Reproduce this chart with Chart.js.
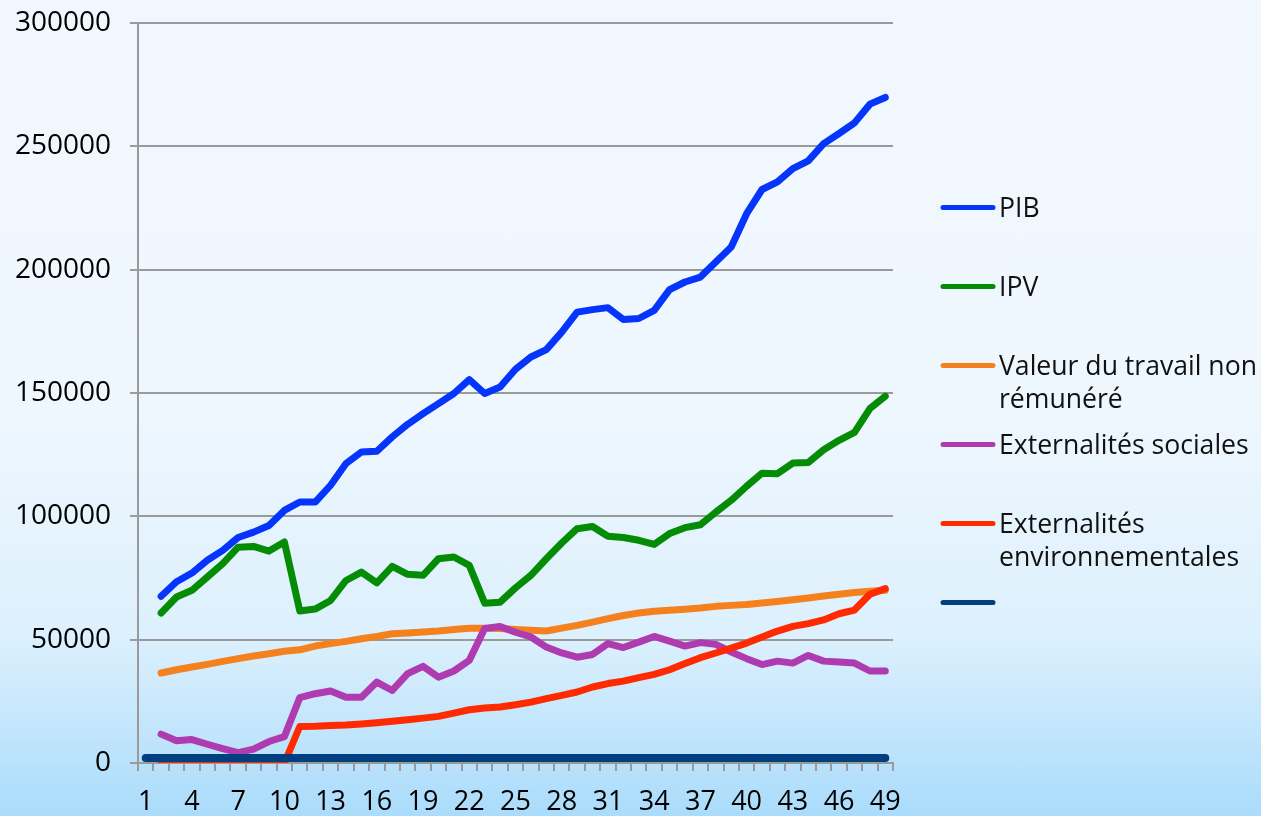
<!DOCTYPE html>
<html>
<head>
<meta charset="utf-8">
<script src="https://cdn.jsdelivr.net/npm/chart.js@4/dist/chart.umd.min.js"></script>
<style>
  html, body { margin: 0; padding: 0; }
  body {
    width: 1261px; height: 816px; overflow: hidden;
    background: linear-gradient(to bottom, #f1f7fe 0%, #eff7fe 50%, #dcf0fd 78%, #aadcfb 100%);
  }
  #wrap { position: relative; width: 1261px; height: 816px; }
</style>
</head>
<body>
<div id="wrap"><canvas id="chart" width="1261" height="816"></canvas></div>
<script>
// x categories 1..49
const years = Array.from({ length: 49 }, (_, i) => String(i + 1));

// series (first point missing for most series)
const pib = [null, 67600, 73500, 77000, 82200, 86200, 91400, 93600, 96300, 102400,
  105800, 105800, 112600, 121400, 126100, 126400, 132200, 137300, 141600, 145700,
  149800, 155400, 149800, 152400, 159600, 164600, 167600, 174700, 182800, 183800,
  184600, 179800, 180200, 183500, 191900, 195000, 197000, 203100, 209200, 222700,
  232500, 235600, 241000, 244100, 251100, 255200, 259500, 267100, 269800];

const ipv = [null, 60800, 67300, 70000, 75400, 80800, 87500, 87800, 85900, 89600,
  61600, 62400, 65900, 74000, 77400, 73000, 79700, 76500, 76100, 82800,
  83500, 80100, 64800, 65200, 71000, 76100, 82800, 89200, 95000, 95900,
  91900, 91400, 90300, 88600, 93000, 95400, 96600, 101700, 106500, 112200,
  117500, 117300, 121600, 121800, 127000, 130800, 134000, 143700, 148700];

const travailNonRemunere = [null, 36500, 37800, 38900, 40000, 41200, 42300, 43400, 44300, 45300,
  45900, 47400, 48400, 49300, 50400, 51300, 52400, 52700, 53100, 53500,
  54100, 54600, 54600, 54500, 54100, 53800, 53500, 54700, 55800, 57100,
  58500, 59800, 60800, 61500, 61900, 62300, 62800, 63500, 63900, 64300,
  64900, 65500, 66200, 66900, 67700, 68400, 69100, 69600, 70000];

const externSociales = [null, 11700, 9000, 9500, 7600, 5800, 4200, 5600, 8700, 10700,
  26500, 28100, 29200, 26700, 26700, 32800, 29400, 36200, 39200, 34800,
  37300, 41600, 54500, 55300, 53000, 51100, 47000, 44600, 42900, 44000,
  48400, 46800, 49000, 51300, 49400, 47400, 48800, 48100, 45000, 42300,
  39900, 41300, 40500, 43600, 41300, 40900, 40500, 37300, 37300];

const externEnv = [null, 0, 0, 0, 0, 0, 0, 0, 0, 0,
  14800, 14900, 15200, 15400, 15800, 16300, 16900, 17500, 18200, 18900,
  20200, 21600, 22300, 22700, 23600, 24700, 26100, 27400, 28800, 30800,
  32200, 33200, 34600, 35900, 37800, 40300, 42700, 44600, 46600, 48600,
  51100, 53500, 55400, 56500, 58000, 60500, 62000, 68400, 70700];

const sixieme = Array(49).fill(2000);

const seriesNames = ['PIB', 'IPV', 'Valeur du travail non\nrémunéré', 'Externalités sociales',
  'Externalités\nenvironnementales', ''];
const seriesColors = ['#0535fb', '#058c05', '#f5801e', '#ae3cb0', '#ff2a00', '#013f80'];
const seriesData = [pib, ipv, travailNonRemunere, externSociales, externEnv, sixieme];

const yTicks = [0, 50000, 100000, 150000, 200000, 250000, 300000];

Chart.defaults.font.family = "'Open Sans', sans-serif";
Chart.defaults.color = '#000';

// legend drawn on the right, one entry per dataset
const sideLegend = {
  id: 'sideLegend',
  afterDraw(chart) {
    const ctx = chart.ctx;
    ctx.save();
    ctx.font = "26.6px 'Open Sans'";
    ctx.textBaseline = 'alphabetic';
    chart.data.datasets.forEach((ds, i) => {
      const y = 207.5 + i * 79;
      ctx.strokeStyle = ds.borderColor;
      ctx.lineWidth = 5;
      ctx.lineCap = 'round';
      ctx.beginPath();
      ctx.moveTo(943, y);
      ctx.lineTo(993, y);
      ctx.stroke();
      ctx.fillStyle = '#111';
      ds.label.split('\n').forEach((line, k) => {
        ctx.fillText(line, 999, y + 9.8 + k * 32.7);
      });
    });
    ctx.restore();
  }
};

new Chart(document.getElementById('chart'), {
  type: 'line',
  data: {
    labels: years,
    datasets: seriesData.map((d, i) => ({
      label: seriesNames[i],
      data: d,
      borderColor: seriesColors[i],
      backgroundColor: seriesColors[i],
      borderWidth: i === 5 ? 8 : 7,
      borderCapStyle: 'round',
      borderJoinStyle: 'round',
      pointRadius: 0,
      tension: 0,
      order: 6 - i,
    })),
  },
  options: {
    responsive: false,
    animation: false,
    layout: { padding: { top: 23, right: 368, bottom: 0, left: 0 } },
    plugins: {
      legend: { display: false },
      tooltip: { enabled: false },
    },
    scales: {
      x: {
        type: 'category',
        offset: true,
        afterFit: s => { s.height = 53; s.paddingLeft = 0; s.paddingRight = 0; },
        grid: { drawOnChartArea: false, drawTicks: true, tickLength: 8, color: '#9a9a9a', lineWidth: 2, offset: true },
        border: { color: '#9a9a9a', width: 2 },
        ticks: {
          autoSkip: false,
          maxRotation: 0,
          padding: 15,
          font: { size: 27 },
          callback: (v, i) => (i % 3 === 0 ? years[i] : ''),
        },
      },
      y: {
        min: 0,
        max: 300000,
        afterFit: s => { s.width = 138; s.paddingTop = 0; s.paddingBottom = 0; },
        afterBuildTicks: s => { s.ticks = yTicks.map(v => ({ value: v })); },
        grid: { color: '#9a9a9a', lineWidth: 2, tickLength: 8 },
        border: { color: '#9a9a9a', width: 2 },
        ticks: { padding: 19, font: { size: 28 }, callback: v => String(v) },
      },
    },
  },
  plugins: [sideLegend],
});
</script>
</body>
</html>
